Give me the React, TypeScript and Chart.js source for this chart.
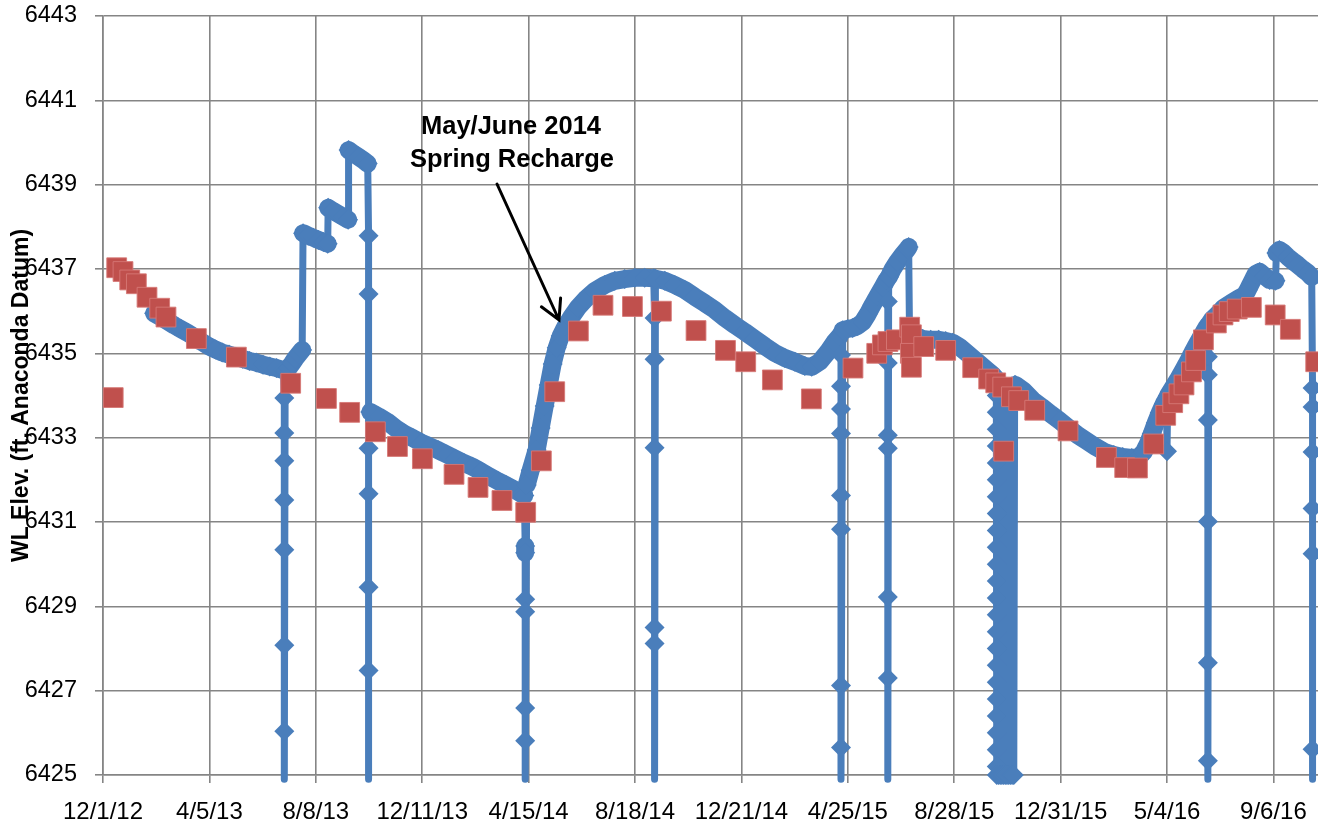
import React, { useEffect, useRef } from "react";
import { Chart, registerables } from "chart.js";

Chart.register(...registerables);

// ---------- axis definitions ----------
const START_UTC = Date.UTC(2012, 11, 1); // day 0 = 12/1/12
const xTickLabels = [
  "12/1/12", "4/5/13", "8/8/13", "12/11/13", "4/15/14", "8/18/14",
  "12/21/14", "4/25/15", "8/28/15", "12/31/15", "5/4/16", "9/6/16",
];
const yTickValues = [6425, 6427, 6429, 6431, 6433, 6435, 6437, 6439, 6441, 6443];
const Y_MIN = 6425;
const Y_MAX = 6443;
const X_MIN_DAY = 0;
const X_MAX_DAY = 1427.4;

const yAxisTitle = "WL Elev. (ft, Anaconda Datum)";
const noteLines = ["May/June 2014", "Spring Recharge"];

// ---------- transducer record (blue), x = days after 12/1/12 ----------
const transducerDays = [
  60, 68, 76, 84, 92, 100, 108, 116, 124, 132, 140, 148, 156, 164, 172, 180, 188, 196, 204, 212,
  213, 213, 213, 213, 213, 213, 213, 213,
  214, 218, 222, 226, 230, 234,
  235, 241, 247, 253, 259, 264,
  264.5, 270, 276, 282, 288,
  288.5, 294, 300, 306, 311,
  312, 312, 312, 312, 312, 312, 312,
  314, 324, 334, 344, 354, 364, 374, 384, 394, 404, 414, 424, 434, 444, 454, 464, 474, 484, 492, 495,
  496, 496, 496, 496, 496, 496, 496,
  497.8, 502.5, 509.5, 514.2, 518.9, 523.6, 528.3, 533, 537.7, 543.6, 549.5, 557.7, 567.1, 577.7,
  589.4, 601.2, 612.9, 624.7, 636.4, 647,
  648, 648, 648, 648, 648, 648,
  649, 660, 671.7, 683.5, 695.3, 707, 718.8, 730.5, 742.3, 754, 765.8, 777.5, 789.3, 801, 812.8,
  824.5, 832.6, 842, 851.4, 859.6, 865.5,
  867, 867, 867, 867, 867, 867, 867, 867, 867,
  869, 874.9, 880.7, 886.6, 892.5, 898.4, 904.2, 910.1, 916, 920.7,
  922, 922, 922, 922, 922, 922, 922,
  923, 927.3, 933.2, 939.1, 945, 946.5,
  947.5, 953.6, 963, 972.4, 981.8, 990, 998.2, 1006.4, 1014.7, 1022.9, 1029.9, 1038.1, 1045.2, 1049.5,
  1050, 1050, 1050, 1050, 1050, 1050, 1050, 1050, 1050, 1050, 1050, 1050,
  1050, 1050, 1050, 1050, 1050, 1050, 1050, 1050, 1050, 1050, 1050, 1050,
  1051, 1052, 1053, 1054, 1055, 1056, 1057, 1058, 1059, 1060, 1061, 1062, 1063, 1064, 1065, 1066,
  1067, 1068, 1069, 1070, 1071,
  1072.2, 1081.6, 1092.2, 1102.8, 1113.4, 1124, 1134.5, 1145.1, 1155.7, 1166.3, 1176.9, 1187.5,
  1198, 1208.6, 1216.8, 1222.7, 1227.4, 1232.1, 1236.8, 1241.5, 1246.2, 1249.5,
  1250, 1250.9, 1256.7, 1262.6, 1268.5, 1274.4, 1280.2, 1286.1, 1292, 1296.7,
  1298, 1298, 1298, 1298, 1298, 1298, 1298,
  1299, 1302.5, 1309.6, 1316.6, 1324.9, 1333.1, 1341.3, 1344.8, 1349.5, 1354.2, 1358.9, 1364.7,
  1370.6, 1377.5, 1378.5, 1382, 1386, 1391.8, 1397.7, 1403.6, 1409.4, 1415.3, 1420,
  1421, 1421, 1421, 1421, 1421, 1421, 1421,
];
const transducerElev = [
  6435.95, 6435.86, 6435.76, 6435.66, 6435.57, 6435.48, 6435.38, 6435.27, 6435.17, 6435.09,
  6435.02, 6434.97, 6434.92, 6434.87, 6434.82, 6434.78, 6434.73, 6434.69, 6434.65, 6434.6,
  6433.94, 6433.11, 6432.45, 6431.52, 6430.34, 6428.08, 6426.04, 6424.9,
  6434.58, 6434.65, 6434.76, 6434.88, 6434.98, 6435.08,
  6437.85, 6437.79, 6437.74, 6437.69, 6437.64, 6437.6,
  6438.45, 6438.38, 6438.31, 6438.24, 6438.17,
  6439.82, 6439.74, 6439.66, 6439.58, 6439.5,
  6437.79, 6436.41, 6424.9, 6427.48, 6429.45, 6431.67, 6432.75,
  6433.61, 6433.5, 6433.38, 6433.22, 6433.09, 6432.99, 6432.88, 6432.79, 6432.7, 6432.6, 6432.5,
  6432.4, 6432.31, 6432.2, 6432.08, 6431.97, 6431.87, 6431.76, 6431.66, 6431.63,
  6430.43, 6430.27, 6429.17, 6428.87, 6426.59, 6425.81, 6424.9,
  6431.88, 6432.23, 6432.71, 6433.23, 6433.75, 6434.25, 6434.75, 6435.13, 6435.41, 6435.65,
  6435.84, 6436.08, 6436.29, 6436.48, 6436.62, 6436.72, 6436.76, 6436.79, 6436.79, 6436.78,
  6435.84, 6434.86, 6432.76, 6428.5, 6428.12, 6424.9,
  6436.77, 6436.72, 6436.62, 6436.5, 6436.34, 6436.19, 6436.03, 6435.84, 6435.67, 6435.51,
  6435.34, 6435.17, 6435.01, 6434.89, 6434.8, 6434.7, 6434.68, 6434.8, 6435.03, 6435.27, 6435.41,
  6434.96, 6434.22, 6433.68, 6433.1, 6431.63, 6430.83, 6427.12, 6425.65, 6424.9,
  6435.55, 6435.58, 6435.6, 6435.65, 6435.74, 6435.93, 6436.15, 6436.36, 6436.57, 6436.74,
  6436.23, 6434.77, 6433.06, 6432.75, 6429.22, 6427.3, 6424.9,
  6436.8, 6436.98, 6437.17, 6437.33, 6437.47, 6437.52,
  6435.48, 6435.41, 6435.34, 6435.32, 6435.32, 6435.29, 6435.25, 6435.15, 6435.01, 6434.87,
  6434.75, 6434.61, 6434.49, 6434.39,
  6434.0, 6433.6, 6433.2, 6432.8, 6432.4, 6432.0, 6431.6, 6431.2, 6430.8, 6430.4, 6430.0, 6429.6,
  6429.2, 6428.8, 6428.4, 6428.0, 6427.6, 6427.2, 6426.8, 6426.4, 6426.0, 6425.6, 6425.2, 6425.0,
  6434.3, 6425.0, 6434.2, 6425.0, 6434.2, 6425.0, 6434.1, 6425.0, 6434.1, 6425.0, 6434.0, 6425.0,
  6434.0, 6425.0, 6434.0, 6425.0, 6434.1, 6425.0, 6434.2, 6425.0, 6434.25,
  6434.25, 6434.11, 6433.89, 6433.73, 6433.56, 6433.4, 6433.23, 6433.06, 6432.92, 6432.78,
  6432.66, 6432.59, 6432.54, 6432.52, 6432.54, 6432.66, 6432.85, 6433.09, 6433.35, 6433.59,
  6433.8, 6433.92,
  6432.68, 6433.99, 6434.18, 6434.37, 6434.58, 6434.8, 6435.03, 6435.25, 6435.46, 6435.63,
  6434.92, 6434.49, 6433.42, 6431.01, 6427.66, 6425.34, 6424.9,
  6435.68, 6435.79, 6435.93, 6436.08, 6436.19, 6436.29, 6436.38, 6436.5, 6436.69, 6436.88,
  6436.93, 6436.83, 6436.74, 6436.72, 6437.38, 6437.45, 6437.4, 6437.29, 6437.19, 6437.1,
  6437.0, 6436.91, 6436.81,
  6434.18, 6433.73, 6432.66, 6431.32, 6430.25, 6425.61, 6424.9,
];

// ---------- manual measurements (red), x = days after 12/1/12 ----------
const manualDays = [
  12, 16.1, 23.5, 31.4, 39.2, 51.7, 66.6, 74, 109.7, 156.7, 220.5, 262.5, 289.8, 320, 345.9,
  375.2, 412.4, 440.6, 468.7, 496.6, 515, 530.7, 558.5, 587.4, 622, 656, 696.7, 731.3, 755.1,
  786.4, 832.2, 881.1, 909, 915.6, 922.2, 932.1, 947.7, 949.7, 948.5, 949.7, 964.2, 990,
  1021.7, 1040.5, 1048.8, 1057, 1058.2, 1067.2, 1075.8, 1094.6, 1133.7, 1178.8, 1200.3, 1215.3,
  1234.4, 1248.5, 1256.7, 1264, 1270, 1278.7, 1283.7, 1292.8, 1308, 1315.8, 1323.1, 1332.5,
  1349.1, 1377.1, 1394.9, 1424.7,
];
const manualElev = [
  6433.95, 6437.03, 6436.94, 6436.74, 6436.65, 6436.33, 6436.07, 6435.86, 6435.35, 6434.91,
  6434.29, 6433.93, 6433.6, 6433.14, 6432.79, 6432.5, 6432.13, 6431.82, 6431.51, 6431.23,
  6432.45, 6434.09, 6435.53, 6436.14, 6436.11, 6436.0, 6435.54, 6435.07, 6434.8, 6434.37,
  6433.92, 6434.65, 6435.0, 6435.2, 6435.28, 6435.32, 6435.62, 6435.44, 6435.0, 6434.67,
  6435.16, 6435.07, 6434.66, 6434.39, 6434.3, 6434.2, 6432.68, 6433.97, 6433.88, 6433.65,
  6433.16, 6432.53, 6432.29, 6432.28, 6432.85, 6433.53, 6433.83, 6434.04, 6434.25, 6434.56,
  6434.83, 6435.32, 6435.72, 6435.91, 6435.99, 6436.05, 6436.09, 6435.91, 6435.57, 6434.8,
];

// ---------- styling ----------
const FONT = '"Liberation Sans", Arial, sans-serif';
const GRID = "#858585";
const BLUE = "#4A7EBB";
const RED = "#C0504D";

function labelToDay(s: string): number {
  const [m, d, y] = s.split("/").map(Number);
  return Math.round((Date.UTC(2000 + y, m - 1, d) - START_UTC) / 86400000);
}
const xTickDays = xTickLabels.map(labelToDay);

const overlayPlugin = {
  id: "overlay",
  afterDraw(chart: any) {
    const ctx = chart.ctx as CanvasRenderingContext2D;
    const area = chart.chartArea;
    // Y axis title (drawn over tick labels like the original)
    ctx.save();
    ctx.translate(28, (area.top + area.bottom) / 2);
    ctx.rotate(-Math.PI / 2);
    ctx.font = `bold 23px ${FONT}`;
    ctx.fillStyle = "#000";
    ctx.textAlign = "center";
    ctx.textBaseline = "alphabetic";
    ctx.fillText(yAxisTitle, 0, 0);
    ctx.restore();

    // Annotation
    ctx.save();
    ctx.font = `bold 25.5px ${FONT}`;
    ctx.fillStyle = "#000";
    ctx.textAlign = "center";
    ctx.textBaseline = "alphabetic";
    ctx.fillText(noteLines[0], 511, 134);
    ctx.fillText(noteLines[1], 512, 167);
    // Arrow
    const x0 = 497, y0 = 184, x1 = 559, y1 = 320;
    ctx.strokeStyle = "#000";
    ctx.lineWidth = 3;
    ctx.lineCap = "round";
    ctx.beginPath();
    ctx.moveTo(x0, y0);
    ctx.lineTo(x1, y1);
    const ang = Math.atan2(y1 - y0, x1 - x0);
    const L = 22, spread = 0.5;
    ctx.moveTo(x1 - L * Math.cos(ang - spread), y1 - L * Math.sin(ang - spread));
    ctx.lineTo(x1, y1);
    ctx.lineTo(x1 - L * Math.cos(ang + spread), y1 - L * Math.sin(ang + spread));
    ctx.stroke();
    ctx.restore();
  },
};

export default function App() {
  const canvasRef = useRef<HTMLCanvasElement | null>(null);

  useEffect(() => {
    if (!canvasRef.current) return;
    const blueData = transducerDays.map((d, i) => ({ x: d, y: transducerElev[i] }));
    const redData = manualDays.map((d, i) => ({ x: d, y: manualElev[i] }));

    const chart = new Chart(canvasRef.current, {
      type: "line",
      data: {
        datasets: [
          {
            label: "Manual",
            data: redData,
            showLine: false,
            pointStyle: "rect",
            pointRadius: 14,
            pointBackgroundColor: RED,
            pointBorderColor: "rgba(214,120,117,0.9)",
            pointBorderWidth: 1,
            order: 0,
            clip: false as any,
          },
          {
            label: "Transducer",
            data: blueData,
            borderColor: BLUE,
            borderWidth: 7,
            borderJoinStyle: "round",
            borderCapStyle: "round",
            tension: 0,
            segment: {
              // near-vertical steps and drawdown spikes are thin; the dense daily record forms a thick band
              borderWidth: (c: any) => {
                const dx = Math.abs(c.p1.x - c.p0.x);
                const dy = Math.abs(c.p1.y - c.p0.y);
                return dy > 12 * dx && dy > 8 ? 7 : 18;
              },
            },
            pointStyle: "rectRot",
            pointRadius: (c: any) => (c.raw && c.raw.y < Y_MIN ? 0 : 10),
            pointBackgroundColor: BLUE,
            pointBorderColor: BLUE,
            pointBorderWidth: 0,
            order: 1,
            clip: false as any,
          },
        ],
      },
      options: {
        animation: false,
        responsive: false,
        events: [],
        layout: { autoPadding: false, padding: { left: 0, right: 0, top: 16, bottom: 0 } },
        plugins: {
          legend: { display: false },
          tooltip: { enabled: false },
          title: { display: false },
        },
        scales: {
          x: {
            type: "linear",
            min: X_MIN_DAY,
            max: X_MAX_DAY,
            afterBuildTicks: (s: any) => {
              s.ticks = xTickDays.map((v) => ({ value: v }));
            },
            afterFit: (s: any) => {
              s.height = 49;
              s.paddingLeft = 0;
              s.paddingRight = 0;
            },
            ticks: {
              autoSkip: false,
              maxRotation: 0,
              minRotation: 0,
              padding: 15,
              color: "#000",
              font: { family: FONT, size: 24 },
              callback: (v: any) => {
                const i = xTickDays.indexOf(Number(v));
                return i >= 0 ? xTickLabels[i] : "";
              },
            },
            grid: { color: GRID, lineWidth: 1.6, tickLength: 8, drawTicks: true },
            border: { color: GRID, width: 1.6 },
          },
          y: {
            min: Y_MIN,
            max: Y_MAX,
            afterBuildTicks: (s: any) => {
              s.ticks = yTickValues.map((v) => ({ value: v }));
            },
            afterFit: (s: any) => {
              s.width = 103;
              s.paddingTop = 0;
              s.paddingBottom = 0;
            },
            ticks: {
              padding: 18,
              color: "#000",
              font: { family: FONT, size: 23.5 },
              callback: (v: any) => String(v),
            },
            grid: { color: GRID, lineWidth: 1.6, tickLength: 8, drawTicks: true },
            border: { color: GRID, width: 1.6 },
          },
        },
      },
      plugins: [overlayPlugin],
    } as any);
    return () => chart.destroy();
  }, []);

  return (
    <div style={{ position: "absolute", left: 0, top: 0, width: 1318, height: 824, background: "#fff", overflow: "hidden" }}>
      <canvas ref={canvasRef} width={1318} height={824} style={{ display: "block" }} />
    </div>
  );
}
